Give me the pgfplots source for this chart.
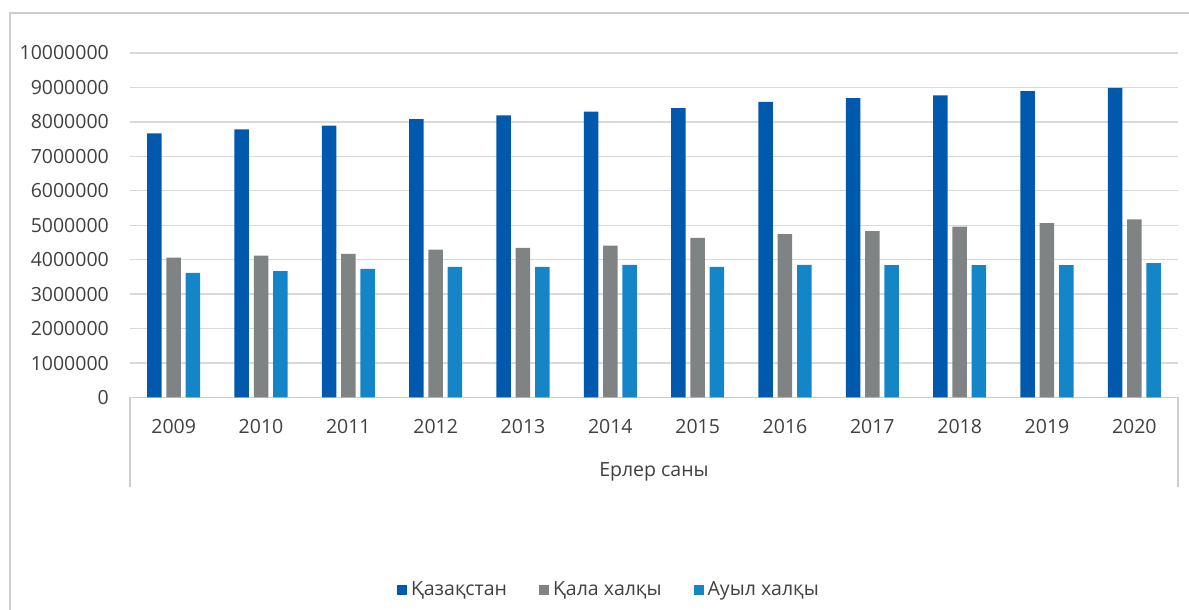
\documentclass[border=0pt]{standalone}
\usepackage{pgfplots}
\usepackage{pgfplotstable}
\pgfplotsset{compat=1.18}
\usepackage{fontspec}
\setmainfont{Open Sans}
\definecolor{kz}{RGB}{0,89,172}
\definecolor{city}{RGB}{127,131,132}
\definecolor{rural}{RGB}{20,134,200}
\definecolor{txt}{RGB}{64,64,64}
\definecolor{gridc}{RGB}{217,217,217}
\definecolor{framec}{RGB}{205,205,205}
\pgfplotstableread{
x kz city rural
0 7670000 4060000 3620000
1 7780000 4120000 3670000
2 7890000 4170000 3730000
3 8080000 4290000 3790000
4 8190000 4340000 3790000
5 8300000 4410000 3850000
6 8400000 4630000 3790000
7 8580000 4740000 3850000
8 8690000 4830000 3840000
9 8770000 4960000 3840000
10 8890000 5060000 3840000
11 8990000 5170000 3900000
}\data
\begin{document}
\fontsize{19.5pt}{23pt}\selectfont
\begin{tikzpicture}[x=1pt,y=1pt]
\useasboundingbox (0,0) rectangle (1189,610);
\draw[framec, line width=1.5pt] (10,-5) -- (10,597) -- (1200,597);
\begin{axis}[
  at={(130pt,212.5pt)}, anchor=south west,
  scale only axis, width=1048pt, height=344.5pt,
  xmin=-0.5, xmax=11.5, ymin=0, ymax=10000000,
  ybar, bar width=14.5pt,
  axis x line*=bottom, axis y line*=left,
  y axis line style={draw=none},
  x axis line style={draw=framec, line width=1.3pt},
  major tick length=0pt,
  ymajorgrids, grid style={gridc, line width=1.3pt},
  xtick={0,...,11},
  xticklabels={2009,2010,2011,2012,2013,2014,2015,2016,2017,2018,2019,2020},
  ytick={0,1000000,2000000,3000000,4000000,5000000,6000000,7000000,8000000,9000000,10000000},
  yticklabels={0,1000000,2000000,3000000,4000000,5000000,6000000,7000000,8000000,9000000,10000000},
  scaled y ticks=false,
  xticklabel style={anchor=base, inner sep=0pt, yshift=-36.5pt, text=txt, font=\fontsize{19.5pt}{23pt}\selectfont},
  yticklabel style={anchor=east, inner sep=0pt, xshift=-21pt, text=txt, font=\fontsize{19.5pt}{23pt}\selectfont},
  legend style={at={(0.457,-0.5588)}, anchor=center, draw=none, fill=none,
    legend columns=3, font=\fontsize{19.5pt}{23pt}\selectfont, text=txt,
    /tikz/every even column/.append style={column sep=30pt},
    /tikz/every odd column/.append style={column sep=2pt}},
  legend image code/.code={\fill[#1] (0pt,-5pt) rectangle (10pt,5pt);},
  clip=false,
]
\addplot[fill=kz, draw=none, bar shift=-19.3pt] table[x=x,y=kz]{\data};
\addplot[fill=city, draw=none, bar shift=0pt] table[x=x,y=city]{\data};
\addplot[fill=rural, draw=none, bar shift=19.3pt] table[x=x,y=rural]{\data};
\legend{Қазақстан, Қала халқы, Ауыл халқы}
\end{axis}
\draw[framec, line width=1.3pt] (130,212.5) -- (130,123);
\draw[framec, line width=1.3pt] (1178,212.5) -- (1178,123);
\node[anchor=center, text=txt] at (654,138.5) {Ерлер саны};
\end{tikzpicture}
\end{document}
